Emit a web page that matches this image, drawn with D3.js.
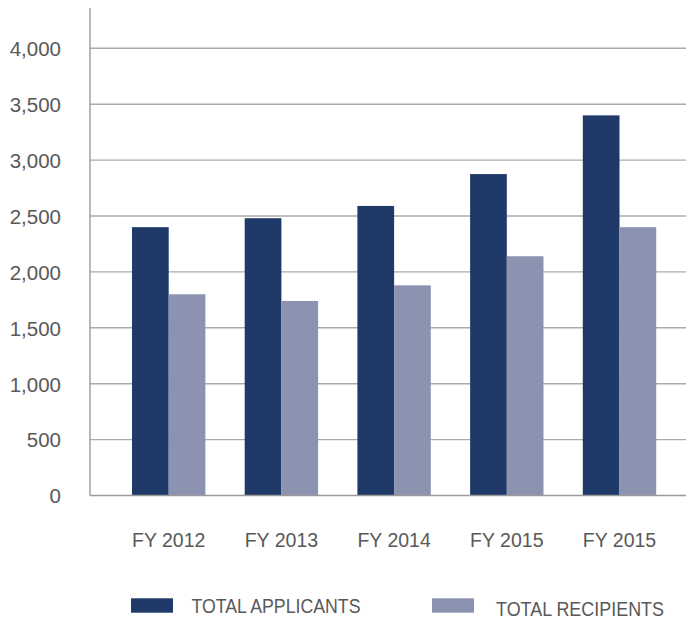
<!DOCTYPE html>
<html>
<head>
<meta charset="utf-8">
<script src="https://cdn.jsdelivr.net/npm/d3@7"></script>
<style>
  html, body { margin: 0; padding: 0; background: #fff; }
  svg { display: block; }
  text { font-family: "Liberation Sans", Arial, sans-serif; fill: #595959; }
</style>
</head>
<body>
<svg id="chart" width="686" height="621"></svg>
<script>
const categories = ["FY 2012", "FY 2013", "FY 2014", "FY 2015", "FY 2015"];
const seriesNames = ["TOTAL APPLICANTS", "TOTAL RECIPIENTS"];
const applicants = [2400, 2480, 2590, 2875, 3400];
const recipients = [1800, 1740, 1880, 2140, 2400];
const yTicks = [0, 500, 1000, 1500, 2000, 2500, 3000, 3500, 4000];
const colors = ["#1f3968", "#8c93b1"];

const svg = d3.select("#chart");
const x0 = 90, xEnd = 686;

const y = d3.scaleLinear().domain([0, 4000]).range([495.5, 48.3]);

const step = 112.7, gap = 39.3;
const x = d3.scaleBand()
  .domain(d3.range(categories.length))
  .range([132 - gap / 2, 132 - gap / 2 + step * categories.length])
  .paddingInner(gap / step)
  .paddingOuter(gap / 2 / step);
const xs = d3.scaleBand().domain([0, 1]).range([0, x.bandwidth()]).padding(0);

// gridlines
svg.append("g").selectAll("line")
  .data(yTicks.filter(d => d > 0))
  .join("line")
  .attr("x1", x0).attr("x2", xEnd)
  .attr("y1", d => y(d)).attr("y2", d => y(d))
  .attr("stroke", "#ababab").attr("stroke-width", 1.4);

// y tick labels
svg.append("g").selectAll("text")
  .data(yTicks)
  .join("text")
  .attr("x", 61)
  .attr("y", d => y(d) + 7.8)
  .attr("text-anchor", "end")
  .style("font-size", "20.5px")
  .text(d => d3.format(",")(d));

// bars
const data = categories.map((c, i) => ({ i, vals: [applicants[i], recipients[i]] }));
const groups = svg.append("g").selectAll("g")
  .data(data)
  .join("g")
  .attr("transform", d => `translate(${x(d.i)},0)`);
groups.selectAll("rect")
  .data(d => d.vals.map((v, k) => ({ v, k })))
  .join("rect")
  .attr("x", d => xs(d.k))
  .attr("width", xs.bandwidth())
  .attr("y", d => y(d.v))
  .attr("height", d => y(0) - y(d.v))
  .attr("fill", d => colors[d.k]);

// axes lines
svg.append("line")
  .attr("x1", x0).attr("x2", x0).attr("y1", 8).attr("y2", y(0))
  .attr("stroke", "#9a9a9a").attr("stroke-width", 1.4);
svg.append("line")
  .attr("x1", x0).attr("x2", xEnd).attr("y1", y(0)).attr("y2", y(0))
  .attr("stroke", "#9a9a9a").attr("stroke-width", 1.4);

// x labels
svg.append("g").selectAll("text")
  .data(data)
  .join("text")
  .attr("x", d => x(d.i) + x.bandwidth() / 2)
  .attr("y", 546.7)
  .attr("text-anchor", "middle")
  .style("font-size", "19.5px")
  .text(d => categories[d.i]);

// legend
const legend = [
  { name: seriesNames[0], color: colors[0], sx: 131, tx: 191.5, ty: 612.5, w: 169 },
  { name: seriesNames[1], color: colors[1], sx: 432, tx: 496, ty: 616, w: 168 }
];
const lg = svg.append("g").selectAll("g").data(legend).join("g");
lg.append("rect")
  .attr("x", d => d.sx).attr("y", 598.3)
  .attr("width", 42).attr("height", 14.4)
  .attr("fill", d => d.color);
lg.append("text")
  .attr("x", d => d.tx).attr("y", d => d.ty)
  .style("font-size", "19.5px")
  .attr("textLength", d => d.w)
  .attr("lengthAdjust", "spacingAndGlyphs")
  .text(d => d.name);
</script>
</body>
</html>
